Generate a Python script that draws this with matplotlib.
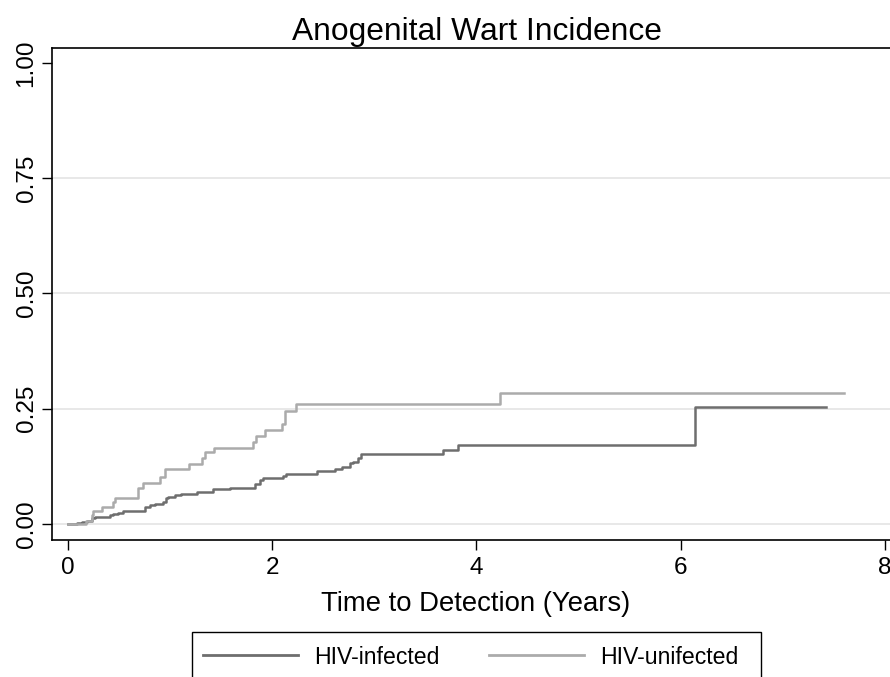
import numpy as np
import matplotlib
matplotlib.use("Agg")
import matplotlib.pyplot as plt
from matplotlib.patches import Rectangle

plt.rcParams['font.family'] = ['Liberation Sans', 'DejaVu Sans']

# Kaplan-Meier cumulative incidence (step points)
t_infected = [0, 0.085, 0.134, 0.183, 0.232, 0.264, 0.313, 0.411, 0.444, 0.493,
              0.542, 0.754, 0.803, 0.852, 0.934, 0.966, 0.983, 1.048, 1.113,
              1.26, 1.42, 1.587, 1.83, 1.88, 1.91, 2.106, 2.14, 2.436, 2.615,
              2.68, 2.76, 2.79, 2.843, 2.867, 3.676, 3.823, 6.141, 7.42]
y_infected = [0, 0.0015, 0.0036, 0.0072, 0.012, 0.0145, 0.016, 0.0195, 0.021, 0.0245,
              0.029, 0.036, 0.041, 0.043, 0.048, 0.0557, 0.059, 0.063, 0.0657,
              0.070, 0.075, 0.079, 0.087, 0.0955, 0.099, 0.104, 0.108, 0.115, 0.120,
              0.124, 0.1315, 0.135, 0.1425, 0.152, 0.1605, 0.171, 0.2545, 0.2545]

t_uninfected = [0, 0.176, 0.232, 0.248, 0.33, 0.444, 0.46, 0.69, 0.74, 0.90, 0.95,
                1.188, 1.31, 1.342, 1.433, 1.815, 1.841, 1.929, 2.093, 2.125, 2.233,
                4.231, 7.60]
y_uninfected = [0, 0.006, 0.0195, 0.029, 0.0375, 0.0484, 0.057, 0.078, 0.089, 0.103, 0.119,
                0.130, 0.1425, 0.1555, 0.1656, 0.1786, 0.1916, 0.204, 0.218, 0.246, 0.2596,
                0.2835, 0.2835]

x_ticks = [0, 2, 4, 6, 8]
y_ticks = [0, 0.25, 0.5, 0.75, 1.0]
y_ticklabels = ['0.00', '0.25', '0.50', '0.75', '1.00']

W, H = 890, 677
fig = plt.figure(figsize=(W / 100, H / 100), dpi=100)
ax = fig.add_axes([51.5 / W, (H - 540) / H, (900 - 51.5) / W, (540 - 48) / H])

dark = '#6e6e6e'
light = '#ababab'
ax.plot(t_infected, y_infected, drawstyle='steps-post', color=dark, lw=1.8,
        label='HIV-infected', zorder=3)
ax.plot(t_uninfected, y_uninfected, drawstyle='steps-post', color=light, lw=1.8,
        label='HIV-unifected', zorder=3)

ax.set_xlim(-0.16, 8.149)
ax.set_ylim(-0.0347, 1.0325)
ax.set_xticks(x_ticks)
ax.set_yticks(y_ticks)
ax.set_yticklabels(y_ticklabels, rotation=90, va='center')
ax.tick_params(axis='x', length=7, width=1, labelsize=17.5, pad=5)
ax.tick_params(axis='y', length=7, width=1, labelsize=17.5, pad=3)

ax.yaxis.grid(True, color='#e6e6e6', lw=1.3)
ax.get_ygridlines()[-1].set_visible(False)
ax.set_axisbelow(True)

for s in ['left', 'top', 'bottom']:
    ax.spines[s].set_linewidth(1.2)
ax.spines['right'].set_visible(False)

fig.text(477 / W, (H - 40) / H, 'Anogenital Wart Incidence', ha='center',
         va='baseline', fontsize=22.9)
fig.text(476 / W, (H - 611) / H, 'Time to Detection (Years)', ha='center',
         va='baseline', fontsize=19.8)

# legend box runs off the bottom of the picture
fig.patches.append(Rectangle((191.7 / W, -0.05), (761 - 191.7) / W, (H - 632) / H + 0.05,
                             transform=fig.transFigure, fill=False,
                             edgecolor='black', lw=1.0))
leg = fig.legend(loc='center left', bbox_to_anchor=(203 / W, (H - 657) / H),
                 ncol=2, fontsize=16.6, frameon=False,
                 handlelength=4.12, handletextpad=0.69, columnspacing=2.17,
                 borderpad=0, borderaxespad=0)
for h in leg.get_lines():
    h.set_linewidth(2)

fig.savefig('out.png', dpi=100)
